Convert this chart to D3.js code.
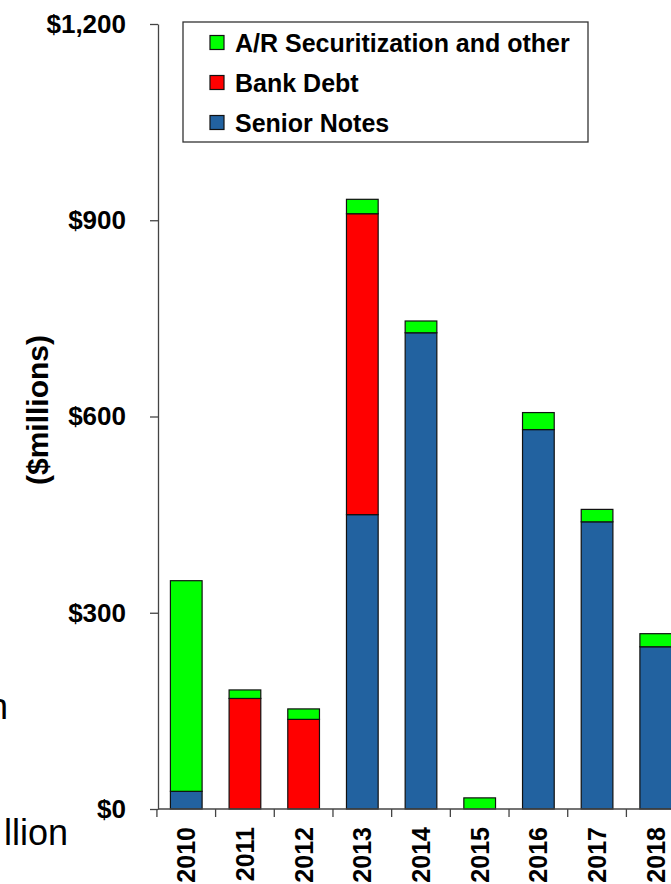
<!DOCTYPE html>
<html>
<head>
<meta charset="utf-8">
<script src="https://cdn.jsdelivr.net/npm/d3@7"></script>
<style>
  body { margin: 0; background: #fff; overflow: hidden; }
  svg { display: block; font-family: "Liberation Sans", Arial, sans-serif; }
</style>
</head>
<body>
<svg></svg>
<script>
let years = ["2010", "2011", "2012", "2013", "2014", "2015", "2016", "2017", "2018"]
let seniorNotes = [27, 0, 0, 450, 728, 0, 580, 439, 248]
let bankDebt = [0, 169, 137, 460, 0, 0, 0, 0, 0]
let arSecuritization = [322, 13, 16, 22, 18, 17, 26, 19, 20]

let yTicks = [0, 300, 600, 900, 1200]
let seriesKeys = ["senior", "bank", "ar"]
let seriesNames = { ar: "A/R Securitization and other", bank: "Bank Debt", senior: "Senior Notes" }
let colors = { senior: "#2262a0", bank: "#ff0000", ar: "#00ff00" }
let legendOrder = ["ar", "bank", "senior"]

let width = 671
let height = 884

let svg = d3.select("svg")
    .attr("width", width)
    .attr("height", height)

let rows = years.map((y, i) => ({
    year: y,
    senior: seniorNotes[i],
    bank: bankDebt[i],
    ar: arSecuritization[i]
}))

let xScale = d3.scaleBand()
    .domain(years)
    .range([157.5, 684.5])
    .paddingInner(0.46)
    .paddingOuter(0.22)

let yScale = d3.scaleLinear()
    .domain([0, 1200])
    .range([809, 24])

// stacked bars
let stacked = d3.stack().keys(seriesKeys)(rows)

svg.append("g")
    .selectAll("g")
    .data(stacked)
    .enter()
    .append("g")
    .attr("fill", d => colors[d.key])
    .selectAll("rect")
    .data(d => d.filter(p => p[1] - p[0] > 0))
    .enter()
    .append("rect")
    .attr("x", d => xScale(d.data.year))
    .attr("width", xScale.bandwidth())
    .attr("y", d => yScale(d[1]))
    .attr("height", d => yScale(d[0]) - yScale(d[1]))
    .attr("stroke", "#111")
    .attr("stroke-width", 1.2)

// y axis
let yAxis = d3.axisLeft(yScale)
    .tickValues(yTicks)
    .tickSize(8)
    .tickSizeOuter(0)
    .tickPadding(24)
    .tickFormat(d => "$" + d3.format(",")(d))

let yg = svg.append("g")
    .attr("transform", "translate(158, 0)")
    .call(yAxis)
yg.selectAll("path, line").attr("stroke", "#444").attr("stroke-width", 1.3)
yg.selectAll("text")
    .attr("fill", "#000")
    .style("font-size", "26px")
    .style("font-weight", "bold")
    .style("font-family", "'Liberation Sans', Arial, sans-serif")

// x axis: line, ticks at band boundaries, rotated year labels
let step = xScale.step()
let boundaries = years.map(y => xScale(y) - step * xScale.paddingInner() / 2)
boundaries.push(boundaries[boundaries.length - 1] + step)

let xg = svg.append("g")
xg.append("line")
    .attr("x1", 158).attr("x2", xScale.range()[1])
    .attr("y1", yScale(0)).attr("y2", yScale(0))
    .attr("stroke", "#444").attr("stroke-width", 1.3)
xg.selectAll(".tick")
    .data(boundaries)
    .enter()
    .append("line")
    .attr("x1", d => d).attr("x2", d => d)
    .attr("y1", yScale(0)).attr("y2", yScale(0) + 8)
    .attr("stroke", "#444").attr("stroke-width", 1.3)
xg.selectAll("text")
    .data(years)
    .enter()
    .append("text")
    .attr("transform", d => "translate(" + (xScale(d) + xScale.bandwidth() / 2) + "," + 827 + ") rotate(-90)")
    .attr("text-anchor", "end")
    .attr("dy", "0.36em")
    .style("font-size", "25px")
    .style("font-weight", "bold")
    .text(d => d)

// y axis title
svg.append("text")
    .attr("transform", "translate(37, 410) rotate(-90)")
    .attr("text-anchor", "middle")
    .attr("dy", "0.35em")
    .style("font-size", "30px")
    .style("font-weight", "bold")
    .text("($millions)")

// legend
let legend = svg.append("g").attr("id", "legend")
legend.append("rect")
    .attr("x", 183).attr("y", 22)
    .attr("width", 405).attr("height", 120)
    .attr("fill", "#fff")
    .attr("stroke", "#333")
    .attr("stroke-width", 1.3)

let items = legend.selectAll("g.item")
    .data(legendOrder)
    .enter()
    .append("g")
    .attr("class", "item")
    .attr("transform", (d, i) => "translate(210," + (42.5 + i * 40) + ")")
items.append("rect")
    .attr("x", 0).attr("y", -7)
    .attr("width", 14).attr("height", 14)
    .attr("fill", d => colors[d])
    .attr("stroke", "#111")
    .attr("stroke-width", 1.2)
items.append("text")
    .attr("x", 25)
    .attr("dy", "0.36em")
    .style("font-size", "25px")
    .style("font-weight", "bold")
    .text(d => seriesNames[d])

// fragments of neighbouring slide text, cut off at the left edge
svg.append("text")
    .attr("x", 8).attr("y", 719)
    .attr("text-anchor", "end")
    .style("font-size", "36px")
    .style("font-family", "'Liberation Sans', Arial, sans-serif")
    .text("n")
svg.append("text")
    .attr("x", 68).attr("y", 845)
    .attr("text-anchor", "end")
    .style("font-size", "36px")
    .text("llion")
</script>
</body>
</html>
